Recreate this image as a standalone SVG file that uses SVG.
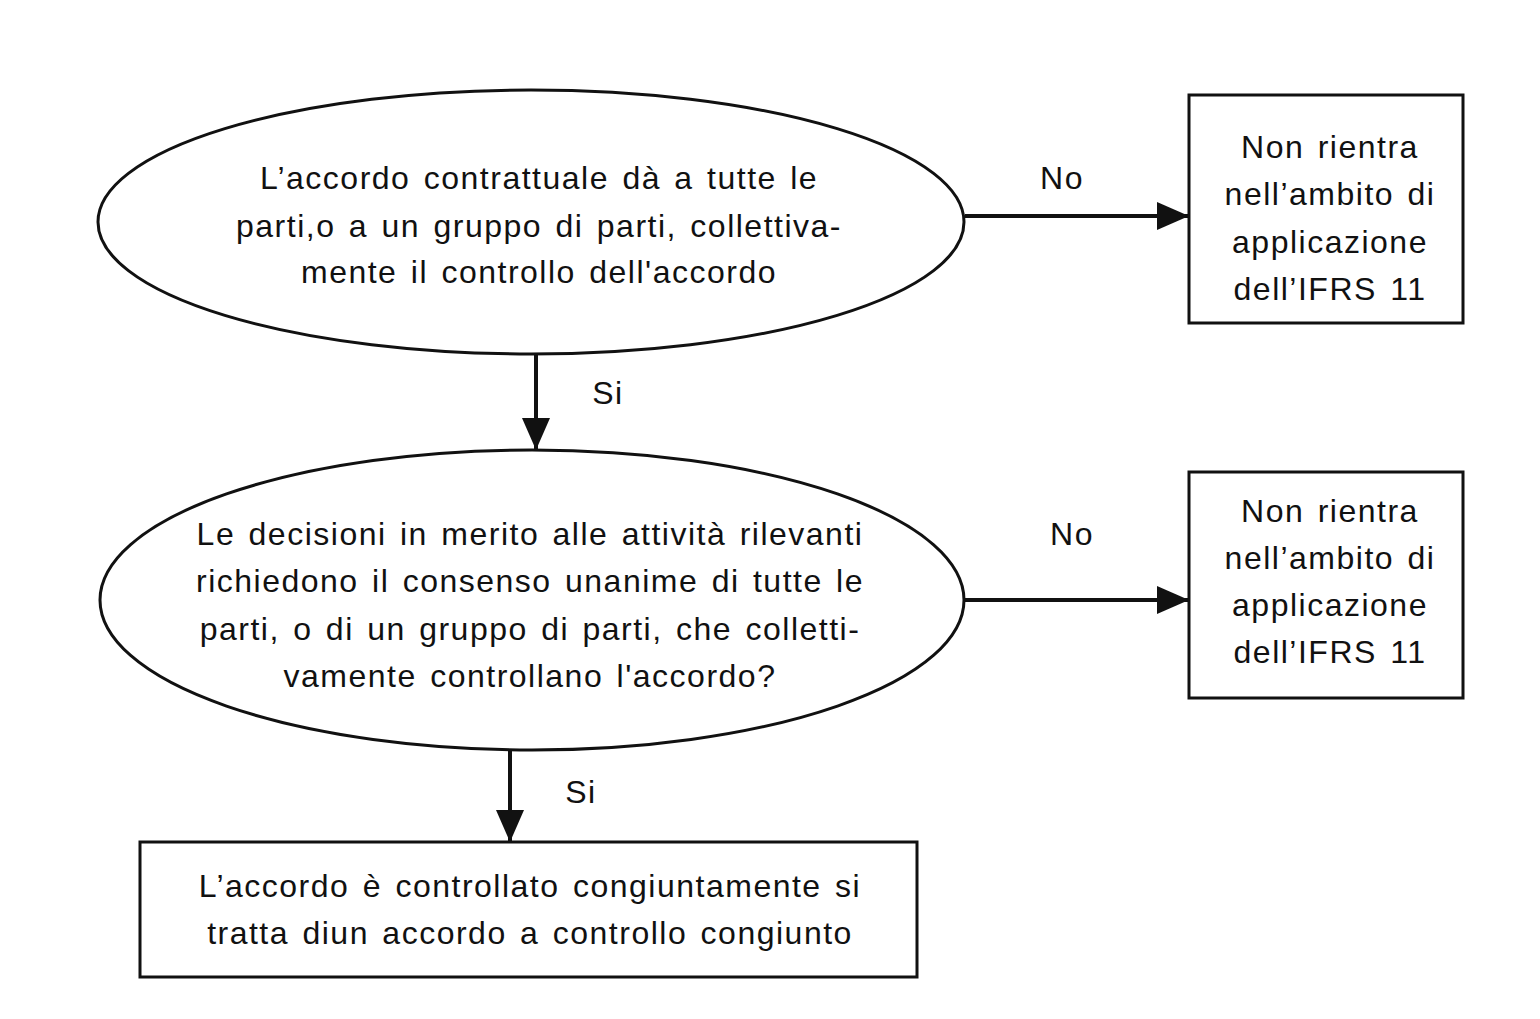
<svg xmlns="http://www.w3.org/2000/svg" width="1540" height="1019" viewBox="0 0 1540 1019">
<style>
.s{fill:#fff;stroke:#111;stroke-width:3}
.t{font-family:"Liberation Sans",Arial,sans-serif;font-size:32px;fill:#111;text-anchor:middle;letter-spacing:1.5px;word-spacing:3px}
.c{stroke:#111;stroke-width:4;fill:none}
</style>
<defs>
<marker id="ah" markerWidth="8" markerHeight="7" refX="8" refY="3.5" orient="auto" markerUnits="strokeWidth">
<path d="M0,0 L8,3.5 L0,7 Z" fill="#111"/>
</marker>
</defs>
<rect width="1540" height="1019" fill="#fff"/>
<g id="connectors">
<line class="c" x1="965" y1="216" x2="1189" y2="216" marker-end="url(#ah)"/>
<line class="c" x1="536" y1="355" x2="536" y2="450" marker-end="url(#ah)"/>
<line class="c" x1="965" y1="600" x2="1189" y2="600" marker-end="url(#ah)"/>
<line class="c" x1="510" y1="751" x2="510" y2="842" marker-end="url(#ah)"/>
<text class="t" x="1062" y="189">No</text>
<text class="t" x="608" y="404">Si</text>
<text class="t" x="1072" y="545">No</text>
<text class="t" x="581" y="803">Si</text>
</g>
<g id="q1">
<ellipse class="s" cx="531" cy="222" rx="433" ry="132"/>
<text class="t" x="539" y="189">L’accordo contrattuale dà a tutte le</text>
<text class="t" x="539" y="237">parti,o a un gruppo di parti, collettiva-</text>
<text class="t" x="539" y="283">mente il controllo dell'accordo</text>
</g>
<g id="out1">
<rect class="s" x="1189" y="95" width="274" height="228"/>
<text class="t" x="1330" y="158">Non rientra</text>
<text class="t" x="1330" y="205">nell’ambito di</text>
<text class="t" x="1330" y="253">applicazione</text>
<text class="t" x="1330" y="300">dell’IFRS 11</text>
</g>
<g id="q2">
<ellipse class="s" cx="532" cy="600" rx="432" ry="150"/>
<text class="t" x="530" y="545">Le decisioni in merito alle attività rilevanti</text>
<text class="t" x="530" y="592">richiedono il consenso unanime di tutte le</text>
<text class="t" x="530" y="640">parti, o di un gruppo di parti, che colletti-</text>
<text class="t" x="530" y="687">vamente controllano l'accordo?</text>
</g>
<g id="out2">
<rect class="s" x="1189" y="472" width="274" height="226"/>
<text class="t" x="1330" y="522">Non rientra</text>
<text class="t" x="1330" y="569">nell’ambito di</text>
<text class="t" x="1330" y="616">applicazione</text>
<text class="t" x="1330" y="663">dell’IFRS 11</text>
</g>
<g id="result">
<rect class="s" x="140" y="842" width="777" height="135"/>
<text class="t" x="530" y="897">L’accordo è controllato congiuntamente si</text>
<text class="t" x="530" y="944">tratta diun accordo a controllo congiunto</text>
</g>
</svg>
